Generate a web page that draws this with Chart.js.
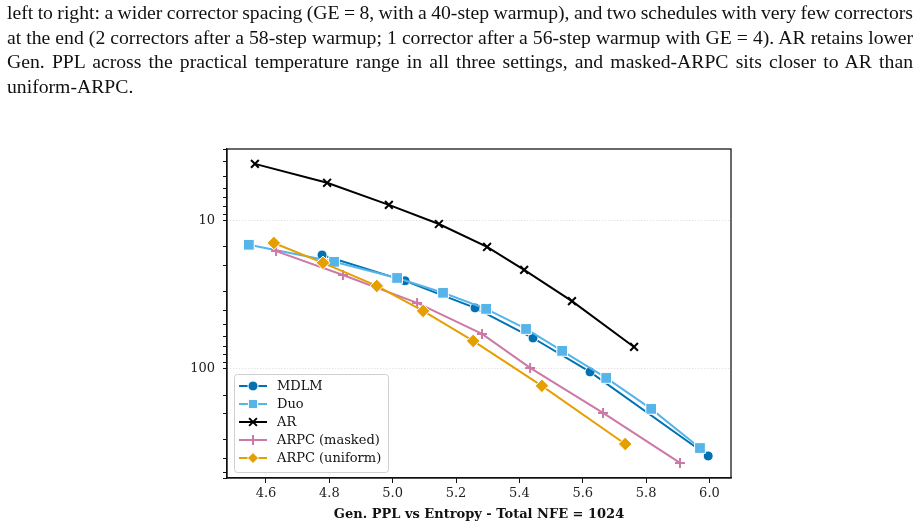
<!DOCTYPE html>
<html>
<head>
<meta charset="utf-8">
<script src="https://cdn.jsdelivr.net/npm/chart.js@4.4.1/dist/chart.umd.min.js"></script>
<style>
    html, body { margin: 0; padding: 0; background: #fff; }
    body { width: 921px; height: 528px; position: relative; overflow: hidden; }
    #caption {
        position: absolute; left: 7px; top: 0; width: 906px;
        font-family: "Liberation Serif", "Times New Roman", serif;
        font-size: 19.7px; line-height: 24.5px; color: #111;
    }
    #caption div { white-space: nowrap; }
    #chart { position: absolute; left: 0; top: 0; }
</style>
</head>
<body>
<canvas id="chart" width="921" height="528"></canvas>
<div id="caption">
    <div><span class="j">left to right: a wider corrector spacing (GE = 8, with a 40-step warmup), and two schedules with very few correctors</span></div>
    <div><span class="j">at the end (2 correctors after a 58-step warmup; 1 corrector after a 56-step warmup with GE = 4). AR retains lower</span></div>
    <div><span class="j">Gen. PPL across the practical temperature range in all three settings, and masked-ARPC sits closer to AR than</span></div>
    <div><span>uniform-ARPC.</span></div>
</div>
<script>
// series labels
var seriesLabels = ['MDLM', 'Duo', 'AR', 'ARPC (masked)', 'ARPC (uniform)'];

// entropy (x) and gen. ppl (y)
var mdlmX = [4.777, 5.039, 5.260, 5.443, 5.623, 5.996];
var mdlmY = [17.0, 25.4, 38.7, 61.8, 104.7, 387];

var duoX = [4.546, 4.815, 5.014, 5.159, 5.295, 5.421, 5.535, 5.674, 5.816, 5.970];
var duoY = [14.5, 18.9, 24.3, 30.6, 39.3, 53.7, 75.5, 115, 186, 342];

var arX = [4.565, 4.793, 4.988, 5.146, 5.298, 5.415, 5.566, 5.762];
var arY = [4.12, 5.53, 7.80, 10.5, 15.0, 21.4, 34.8, 71.0];

var maskedX = [4.632, 4.843, 5.077, 5.282, 5.434, 5.664, 5.907];
var maskedY = [16.0, 23.2, 35.8, 58.0, 98.4, 198, 431];

var uniformX = [4.625, 4.780, 4.950, 5.096, 5.254, 5.471, 5.734];
var uniformY = [14.1, 19.2, 27.5, 40.6, 64.7, 130, 321];

// axis ticks
var xTicks = [4.6, 4.8, 5.0, 5.2, 5.4, 5.6, 5.8, 6.0];
var yLabelled = [10, 100];

var FONT = '"DejaVu Serif", serif';

// justify the caption lines by stretching/shrinking the word gaps
document.querySelectorAll('#caption .j').forEach(function (el) {
    var w = el.getBoundingClientRect().width;
    var gaps = el.textContent.split(' ').length - 1;
    el.style.wordSpacing = ((906 - w) / gaps) + 'px';
});

function pts(xs, ys) {
    return xs.map(function (x, i) { return { x: x, y: ys[i] }; });
}

function makeSet(label, data, color, style, radius, filled, order) {
    return {
        label: label,
        data: data,
        borderColor: color,
        backgroundColor: color,
        borderWidth: 2,
        pointStyle: style,
        pointRadius: radius,
        pointHoverRadius: radius,
        pointBackgroundColor: color,
        pointBorderColor: filled ? '#ffffff' : color,
        pointBorderWidth: filled ? 1 : 2,
        tension: 0,
        order: order
    };
}

var datasets = [
    makeSet(seriesLabels[0], pts(mdlmX, mdlmY), '#0072b2', 'circle', 5, true, 5),
    makeSet(seriesLabels[1], pts(duoX, duoY), '#56b4e9', 'rect', 7.6, true, 4),
    makeSet(seriesLabels[2], pts(arX, arY), '#000000', 'crossRot', 5.5, false, 3),
    makeSet(seriesLabels[3], pts(maskedX, maskedY), '#cc79a7', 'cross', 5, false, 2),
    makeSet(seriesLabels[4], pts(uniformX, uniformY), '#e69f00', 'rectRot', 6.8, true, 1)
];

function legendMarker(ctx, ds, x, y) {
    ctx.save();
    ctx.fillStyle = ds.pointBackgroundColor;
    ctx.strokeStyle = ds.pointBorderColor;
    ctx.lineWidth = ds.pointBorderWidth;
    Chart.helpers.drawPoint(ctx, {
        pointStyle: ds.pointStyle,
        radius: ds.pointStyle === 'rect' ? 6.5 : Math.min(ds.pointRadius, 5.5),
        rotation: 0,
        borderWidth: ds.pointBorderWidth
    }, x, y);
    ctx.restore();
}

/**
 * Box around the plot plus a matplotlib-like legend
 */
var framePlugin = {
    id: 'frame',
    afterDraw: function (chart) {
        var ctx = chart.ctx, a = chart.chartArea;
        ctx.save();
        ctx.strokeStyle = '#111';
        ctx.lineWidth = 1.25;
        ctx.strokeRect(a.left, a.top, a.right - a.left, a.bottom - a.top);

        // legend box
        var bx = 234.5, by = 374.5, bw = 154, bh = 98;
        ctx.fillStyle = 'rgba(255,255,255,0.85)';
        ctx.strokeStyle = '#d0d0d0';
        ctx.lineWidth = 1;
        ctx.beginPath();
        if (ctx.roundRect) { ctx.roundRect(bx, by, bw, bh, 3); } else { ctx.rect(bx, by, bw, bh); }
        ctx.fill();
        ctx.stroke();

        datasets.forEach(function (ds, i) {
            var y = 386 + i * 18;
            ctx.strokeStyle = ds.borderColor;
            ctx.lineWidth = 2;
            ctx.beginPath();
            ctx.moveTo(239, y);
            ctx.lineTo(267, y);
            ctx.stroke();
            legendMarker(ctx, ds, 253, y);
            ctx.font = '13px ' + FONT;
            ctx.textBaseline = 'middle';
            ctx.textAlign = 'left';
            ctx.fillStyle = '#111';
            ctx.fillText(ds.label, 277, y + 0.5);
        });
        ctx.restore();
    }
};

new Chart(document.getElementById('chart').getContext('2d'), {
    type: 'line',
    data: { datasets: datasets },
    options: {
        responsive: false,
        animation: false,
        devicePixelRatio: 1,
        layout: { padding: { top: 149, right: 190, bottom: 0, left: 0 } },
        plugins: {
            legend: { display: false },
            tooltip: { enabled: false }
        },
        scales: {
            x: {
                type: 'linear',
                min: 4.477,
                max: 6.068,
                afterFit: function (s) { s.height = 50; },
                afterBuildTicks: function (s) {
                    s.ticks = xTicks.map(function (v) { return { value: v }; });
                },
                grid: {
                    drawOnChartArea: false,
                    tickLength: 5,
                    tickColor: '#111',
                    tickWidth: 1
                },
                border: { color: '#111', width: 1.25 },
                ticks: {
                    padding: 3,
                    color: '#222',
                    font: { family: FONT, size: 13 },
                    callback: function (v) { return Number(v).toFixed(1); }
                },
                title: {
                    display: true,
                    text: 'Gen. PPL vs Entropy - Total NFE = 1024',
                    color: '#111',
                    font: { family: FONT, size: 13, weight: 'bold' },
                    padding: { top: 1, bottom: 6 }
                }
            },
            y: {
                type: 'logarithmic',
                reverse: true,
                min: 3.27,
                max: 545,
                afterFit: function (s) { s.width = 227; },
                grid: {
                    color: function (c) {
                        return c.tick && yLabelled.indexOf(c.tick.value) >= 0 ? '#cfcfcf' : 'rgba(0,0,0,0)';
                    },
                    lineWidth: 0.8,
                    tickColor: '#111',
                    tickLength: 4,
                    tickWidth: 1
                },
                border: { color: '#111', width: 1.25, dash: [1, 2] },
                ticks: {
                    autoSkip: false,
                    padding: 8,
                    color: '#222',
                    font: { family: FONT, size: 13 },
                    callback: function (v) {
                        return yLabelled.indexOf(v) >= 0 ? String(v) : '';
                    }
                }
            }
        }
    },
    plugins: [framePlugin]
});
</script>
</body>
</html>
